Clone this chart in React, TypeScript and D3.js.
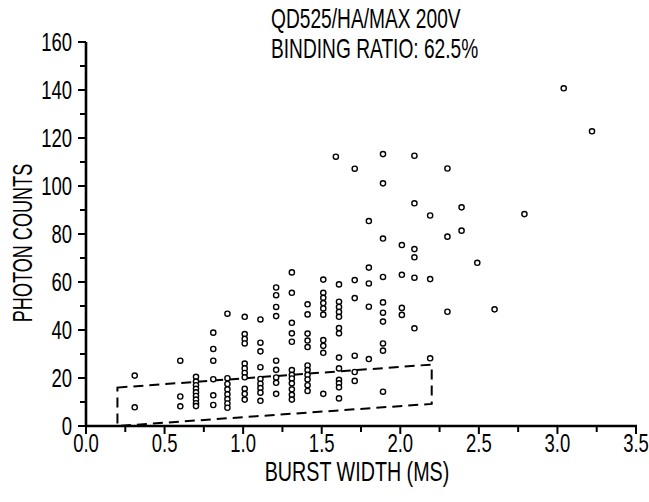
import React from "react";
import * as d3 from "d3";

const W = 649;
const H = 502;

// Burst width (ms) and photon counts
const burstWidth: number[] = [
  0.31, 0.31,
  0.6, 0.6, 0.6,
  0.7, 0.7, 0.7, 0.7, 0.7, 0.7, 0.7, 0.7, 0.7,
  0.81, 0.81, 0.81, 0.81, 0.81, 0.81,
  0.9, 0.9, 0.9, 0.9, 0.9, 0.9, 0.9, 0.9,
  1.01, 1.01, 1.01, 1.01, 1.01, 1.01, 1.01, 1.01, 1.01, 1.01, 1.01,
  1.11, 1.11, 1.11, 1.11, 1.11, 1.11, 1.11, 1.11, 1.11,
  1.21, 1.21, 1.21, 1.21, 1.21, 1.21, 1.21, 1.21, 1.21,
  1.31, 1.31, 1.31, 1.31, 1.31, 1.31, 1.31, 1.31, 1.31, 1.31, 1.31, 1.31,
  1.41, 1.41, 1.41, 1.41, 1.41, 1.41, 1.41, 1.41, 1.41, 1.41, 1.41,
  1.51, 1.51, 1.51, 1.51, 1.51, 1.51, 1.51, 1.51, 1.51, 1.51,
  1.59, 1.61, 1.61, 1.61, 1.61, 1.61, 1.61, 1.61, 1.61, 1.61, 1.61, 1.61, 1.61, 1.61,
  1.71, 1.71, 1.71, 1.71, 1.71, 1.71,
  1.8, 1.8, 1.8, 1.8, 1.8,
  1.89, 1.89, 1.89, 1.89, 1.89, 1.89, 1.89, 1.89, 1.89, 1.89,
  2.01, 2.01, 2.01, 2.01,
  2.09, 2.09, 2.09, 2.09, 2.09, 2.09,
  2.19, 2.19, 2.19,
  2.3, 2.3, 2.3,
  2.39, 2.39,
  2.49,
  2.6,
  2.79,
  3.04,
  3.22,
];

const photonCounts: number[] = [
  21, 7.8,
  27.2, 12.3, 8.2,
  20.5, 18.5, 17, 15.5, 14, 12.5, 11, 9.5, 8.3,
  38.9, 32.1, 27.2, 19.5, 12.8, 8.75,
  46.8, 19.9, 17.5, 15.3, 13.2, 11.2, 9.4, 7.6,
  45.5, 38.3, 36.3, 34.4, 26, 24, 22.1, 20.3, 15.5, 13.4, 11,
  44.4, 34.7, 31.1, 24.5, 19.6, 17.6, 15.8, 13.9, 10.5,
  57.7, 54.5, 49.6, 45.8, 27.2, 23.4, 20.2, 18, 13.4,
  64, 55.5, 43, 38.6, 35.1, 23.3, 21.3, 19.8, 17.8, 15.3, 13, 11,
  50.7, 46.5, 38.5, 35.6, 32.9, 25.2, 23.3, 21.3, 19.4, 17, 14.6,
  61, 55.5, 53.4, 51.2, 49, 46.4, 35.8, 33.4, 30.5, 13.4,
  112.2, 59, 51.8, 49.6, 47.5, 45.5, 40.8, 38.6, 28.5, 24, 19.2, 17.8, 16.1, 11.5,
  107.2, 60.8, 53.3, 29.3, 22.5, 18.8,
  85.4, 66, 59.4, 49.7, 27.9,
  113.3, 101.1, 78.1, 62.1, 51.5, 47.2, 43.5, 34.4, 31.4, 14.3,
  75.4, 63, 49.2, 46.3,
  112.6, 92.8, 73.7, 70.3, 61.8, 40.7,
  87.7, 61.2, 28.2,
  107.3, 78.9, 47.6,
  91.1, 81.4,
  68,
  48.6,
  88.3,
  140.7,
  122.8,
];

// Dashed boundary region (burst width, photon counts)
const boundaryX: number[] = [0.2, 2.2, 2.2, 0.2];
const boundaryY: number[] = [16, 25.6, 9.2, 0];

const xMajorTicks: number[] = [0, 0.5, 1, 1.5, 2, 2.5, 3, 3.5];
const xMinorTicks: number[] = [0.25, 0.75, 1.25, 1.75, 2.25, 2.75, 3.25];
const yMajorTicks: number[] = [0, 20, 40, 60, 80, 100, 120, 140, 160];
const yMinorTicks: number[] = [10, 30, 50, 70, 90, 110, 130, 150];

const titleLines: string[] = ["QD525/HA/MAX 200V", "BINDING RATIO: 62.5%"];
const xLabel = "BURST WIDTH (MS)";
const yLabel = "PHOTON COUNTS";

const FONT = "'Liberation Sans', Arial, sans-serif";

function NText(props: {
  x: number;
  y: number;
  size: number;
  sx: number;
  anchor?: "start" | "middle" | "end";
  rotate?: number;
  children: React.ReactNode;
}) {
  const { x, y, size, sx, anchor = "start", rotate = 0, children } = props;
  return (
    <text
      transform={`translate(${x},${y}) rotate(${rotate}) scale(${sx},1)`}
      fontFamily={FONT}
      fontSize={size}
      textAnchor={anchor}
      fill="#000"
    >
      {children}
    </text>
  );
}

export default function App() {
  const x = d3.scaleLinear().domain([0, 3.5]).range([86, 636]);
  const y = d3.scaleLinear().domain([0, 160]).range([426, 42]);

  const boundaryPath =
    d3.line<number>()
      .x((i) => x(boundaryX[i]))
      .y((i) => y(boundaryY[i]))(d3.range(boundaryX.length)) + "Z";

  const x0 = x(0);
  const y0 = y(0);

  return (
    <svg width={W} height={H} style={{ position: "absolute", left: 0, top: 0, background: "#fff" }}>
      <rect width={W} height={H} fill="#fff" />
      {/* Title */}
      <NText x={271} y={28} size={27} sx={0.71}>{titleLines[0]}</NText>
      <NText x={271} y={58} size={27} sx={0.71}>{titleLines[1]}</NText>

      {/* Axes */}
      <line x1={x0} x2={x0} y1={y(160)} y2={y0 + 1} stroke="#000" strokeWidth={2.6} />
      <line x1={x0 - 1} x2={x(3.5) + 1} y1={y0} y2={y0} stroke="#000" strokeWidth={2.6} />

      {yMajorTicks.map((t) => (
        <g key={"ym" + t}>
          <line x1={x0 - 8} x2={x0} y1={y(t)} y2={y(t)} stroke="#000" strokeWidth={2} />
          <NText x={x0 - 14} y={y(t) + 9} size={25} sx={0.74} anchor="end">{String(t)}</NText>
        </g>
      ))}
      {yMinorTicks.map((t) => (
        <line key={"yn" + t} x1={x0 - 6} x2={x0} y1={y(t)} y2={y(t)} stroke="#000" strokeWidth={2} />
      ))}
      {xMajorTicks.map((t) => (
        <g key={"xm" + t}>
          <line x1={x(t)} x2={x(t)} y1={y0} y2={y0 + 8} stroke="#000" strokeWidth={2} />
          <NText x={x(t)} y={y0 + 26} size={25} sx={0.74} anchor="middle">{t.toFixed(1)}</NText>
        </g>
      ))}
      {xMinorTicks.map((t) => (
        <line key={"xn" + t} x1={x(t)} x2={x(t)} y1={y0} y2={y0 + 6} stroke="#000" strokeWidth={2} />
      ))}

      {/* Axis titles */}
      <NText x={357} y={481} size={27} sx={0.73} anchor="middle">{xLabel}</NText>
      <NText x={32} y={243} size={27} sx={0.67} anchor="middle" rotate={-90}>{yLabel}</NText>

      {/* Boundary */}
      <path d={boundaryPath} fill="none" stroke="#000" strokeWidth={2} strokeDasharray="10,6" />

      {/* Points */}
      {burstWidth.map((bw, i) => (
        <circle
          key={"p" + i}
          cx={x(bw)}
          cy={y(photonCounts[i])}
          r={2.6}
          fill="#fff"
          stroke="#000"
          strokeWidth={1.4}
        />
      ))}
    </svg>
  );
}
